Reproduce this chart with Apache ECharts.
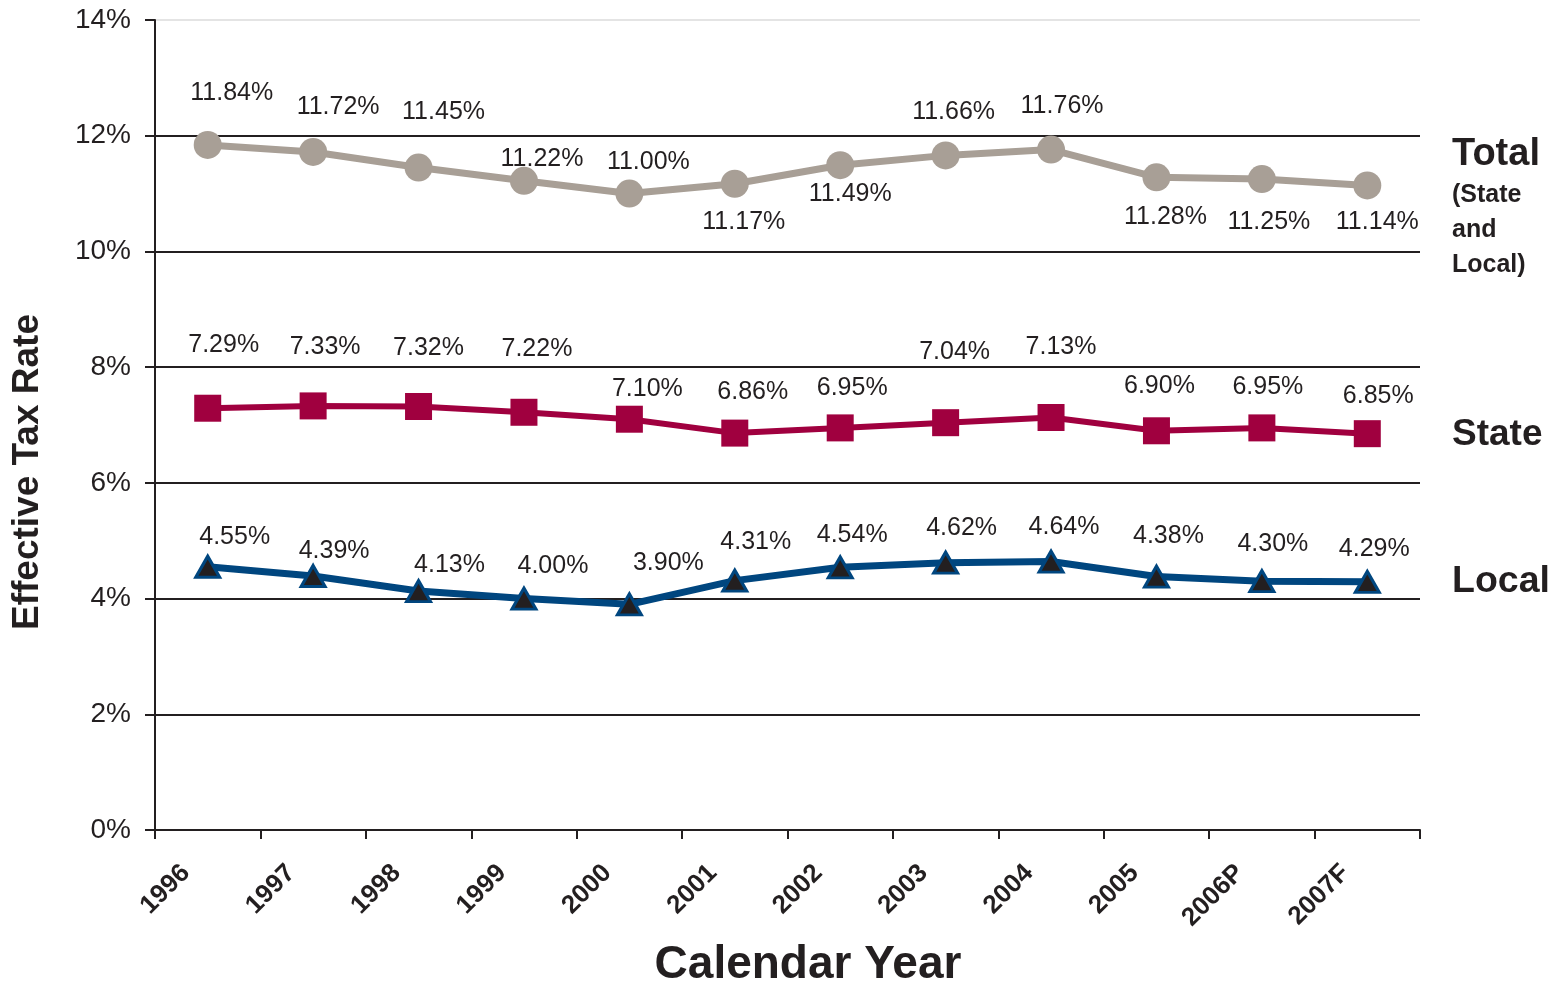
<!DOCTYPE html>
<html>
<head>
<meta charset="utf-8">
<script src="https://cdn.jsdelivr.net/npm/echarts@6/dist/echarts.min.js"></script>
<style>
html,body{margin:0;padding:0;background:#fff;}
#chart{width:1559px;height:985px;}
</style>
</head>
<body>
<div id="chart"></div>
<script>
const categories = ['1996','1997','1998','1999','2000','2001','2002','2003','2004','2005','2006P','2007F'];
const totalRate = [11.84, 11.72, 11.45, 11.22, 11.00, 11.17, 11.49, 11.66, 11.76, 11.28, 11.25, 11.14];
const stateRate = [7.29, 7.33, 7.32, 7.22, 7.10, 6.86, 6.95, 7.04, 7.13, 6.90, 6.95, 6.85];
const localRate = [4.55, 4.39, 4.13, 4.00, 3.90, 4.31, 4.54, 4.62, 4.64, 4.38, 4.30, 4.29];
const yMin = 0, yMax = 14, yInterval = 2;

// label placement relative to each marker (layout only)
const totalLabelOffsets = [[24,-52],[25,-45],[25,-55],[18,-22],[19,-31],[9,38],[10,29],[8,-43],[11,-43],[9,40],[7,43],[10,37]];
const stateLabelOffsets = [[16,-63],[12,-59],[10,-58],[13,-63],[18,-30],[18,-41],[12,-40],[9,-71],[10,-70],[3,-45],[6,-41],[11,-38]];
const localLabelOffsets = [[27,-30],[21,-25],[31,-26],[29,-32],[39,-41],[21,-39],[12,-32],[16,-35],[13,-34],[12,-40],[11,-37],[7,-33]];

const FONT = '"Liberation Sans", Arial, Helvetica, sans-serif';
const INK = '#231f20';

function buildData(values, offsets) {
  return values.map((v, i) => ({ value: v, label: { offset: offsets[i] } }));
}
const dataLabel = {
  show: true,
  position: 'inside',
  formatter: p => p.value.toFixed(2) + '%',
  color: INK,
  fontFamily: FONT,
  fontSize: 25
};

const chart = echarts.init(document.getElementById('chart'), null, { renderer: 'canvas' });
chart.setOption({
  animation: false,
  backgroundColor: '#ffffff',
  grid: { left: 155, right: 139, top: 20, bottom: 155, containLabel: false },
  xAxis: {
    type: 'category',
    data: categories,
    boundaryGap: true,
    axisLine: { show: true, lineStyle: { color: INK, width: 2 } },
    axisTick: { show: true, length: 9, lineStyle: { color: INK, width: 2 } },
    axisLabel: {
      rotate: 45,
      interval: 0,
      margin: 17,
      padding: [0, 31, 0, 0],
      color: INK,
      fontFamily: FONT,
      fontWeight: 'bold',
      fontSize: 26
    },
    splitLine: { show: false }
  },
  yAxis: {
    type: 'value',
    min: yMin,
    max: yMax,
    interval: yInterval,
    axisLine: { show: true, lineStyle: { color: INK, width: 2 } },
    axisTick: { show: true, length: 10, lineStyle: { color: INK, width: 2 } },
    axisLabel: {
      formatter: v => v + '%',
      margin: 24,
      color: INK,
      fontFamily: FONT,
      fontSize: 28
    },
    splitLine: {
      show: true,
      lineStyle: {
        color: [INK, INK, INK, INK, INK, INK, INK, '#e4e4e4'],
        width: 2
      }
    }
  },
  series: [
    {
      name: 'Total',
      type: 'line',
      data: buildData(totalRate, totalLabelOffsets),
      symbol: 'circle',
      symbolSize: 28,
      lineStyle: { color: '#a89f96', width: 7 },
      itemStyle: { color: '#a89f96' },
      label: dataLabel,
      z: 3
    },
    {
      name: 'State',
      type: 'line',
      data: buildData(stateRate, stateLabelOffsets),
      symbol: 'rect',
      symbolSize: 27,
      lineStyle: { color: '#a0003f', width: 6 },
      itemStyle: { color: '#a0003f' },
      label: dataLabel,
      z: 3
    },
    {
      name: 'Local',
      type: 'line',
      data: buildData(localRate, localLabelOffsets),
      symbol: 'triangle',
      symbolSize: [24, 21],
      lineStyle: { color: '#00467f', width: 7 },
      itemStyle: { color: INK, borderColor: '#00467f', borderWidth: 3 },
      label: dataLabel,
      z: 3
    }
  ],
  graphic: [
    {
      type: 'text', x: 28, y: 472, rotation: Math.PI / 2,
      style: { text: 'Effective Tax Rate', font: 'bold 37px ' + FONT, fill: INK,
        align: 'center', verticalAlign: 'middle', textAlign: 'center', textVerticalAlign: 'middle' }
    },
    {
      type: 'text', x: 808, y: 965,
      style: { text: 'Calendar Year', font: 'bold 46px ' + FONT, fill: INK,
        align: 'center', verticalAlign: 'middle', textAlign: 'center', textVerticalAlign: 'middle' }
    },
    {
      type: 'text', x: 1452, y: 155,
      style: { text: 'Total', font: 'bold 38px ' + FONT, fill: INK,
        align: 'left', verticalAlign: 'middle', textAlign: 'left', textVerticalAlign: 'middle' }
    },
    {
      type: 'text', x: 1452, y: 230,
      style: { text: '(State\nand\nLocal)', font: 'bold 25px ' + FONT, fill: INK, lineHeight: 35,
        align: 'left', verticalAlign: 'middle', textAlign: 'left', textVerticalAlign: 'middle' }
    },
    {
      type: 'text', x: 1452, y: 435,
      style: { text: 'State', font: 'bold 37px ' + FONT, fill: INK,
        align: 'left', verticalAlign: 'middle', textAlign: 'left', textVerticalAlign: 'middle' }
    },
    {
      type: 'text', x: 1452, y: 582,
      style: { text: 'Local', font: 'bold 37.5px ' + FONT, fill: INK,
        align: 'left', verticalAlign: 'middle', textAlign: 'left', textVerticalAlign: 'middle' }
    }
  ]
});
</script>
</body>
</html>
